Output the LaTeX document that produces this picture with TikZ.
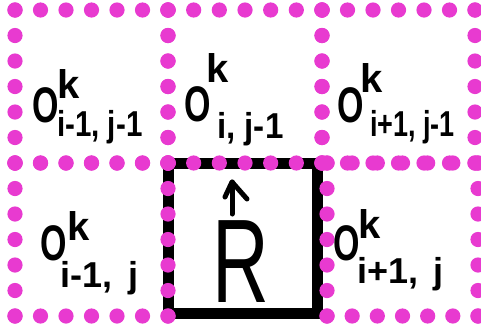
\documentclass[tikz,border=0pt]{standalone}
\usepackage{fontspec}
\setmainfont{Liberation Sans}
\definecolor{dotpink}{RGB}{232,58,208}
\newcommand\mydotsquare[4]{%
  \foreach \t in {0,...,6}{%
    \fill[dotpink] ({#1+(#3-#1)*\t/6},#2) circle[radius=7.6pt];
    \fill[dotpink] ({#1+(#3-#1)*\t/6},#4) circle[radius=7.6pt];
    \fill[dotpink] (#1,{#2+(#4-#2)*\t/6}) circle[radius=7.6pt];
    \fill[dotpink] (#3,{#2+(#4-#2)*\t/6}) circle[radius=7.6pt];
  }}
\tikzset{
  hand/.style={inner sep=0pt, anchor=base west, text=black},
  bigO/.style={hand, font=\fontsize{50}{50}\selectfont\bfseries, xscale=0.68},
  supk/.style={hand, font=\fontsize{40}{40}\selectfont\bfseries},
  subs/.style={hand, font=\fontsize{36}{36}\selectfont\bfseries},
  stroke/.style={line width=5pt, line cap=round, line join=round}
}
\begin{document}
\begin{tikzpicture}[x=1pt,y=-1pt]
\useasboundingbox[fill=white] (0,0) rectangle (481,330);
% central black cell
\draw[line width=11pt] (168,163) rectangle (317,313);
% dotted cells
\mydotsquare{15}{10}{168}{163}
\mydotsquare{168}{10}{322}{163}
\mydotsquare{322}{10}{475}{163}
\mydotsquare{15}{163}{168}{316}
\mydotsquare{327}{163}{478}{316}
% labels
\node[bigO] (o1) at (32,122) {O};
\node[supk] (k1) at (57,98) {k};
\node[subs, xscale=0.82] (s1) at (57,136) {i-1, j-1};
\node[bigO] (o2) at (184,121) {O};
\node[supk] (k2) at (206,82) {k};
\node[subs, xscale=0.92] (s2) at (217,138) {i, j-1};
\node[bigO] (o3) at (337,122) {O};
\node[supk] (k3) at (360,92) {k};
\node[subs, xscale=0.75] (s3) at (370,136) {i+1, j-1};
\node[bigO] (o4) at (40,260) {O};
\node[supk] (k4) at (67,240) {k};
\node[subs] (s4) at (60,287) {i-1,\hspace{0.45em}j};
\node[bigO] (o5) at (333,260) {O};
\node[supk] (k5) at (358,238) {k};
\node[subs] (s5) at (357,283) {i+1,\hspace{0.42em}j};
% R with arrow
\node[hand, font=\fontsize{119}{119}\selectfont, xscale=0.66] (R) at (212,302) {R};
\coordinate (ab) at (232,214);
\coordinate (at) at (232,182);
\coordinate (hl) at (225,197);
\coordinate (hr) at (247,199);
\draw[stroke] (ab) -- (at);
\draw[stroke] (hl) -- (at) -- (hr);
\end{tikzpicture}
\end{document}
